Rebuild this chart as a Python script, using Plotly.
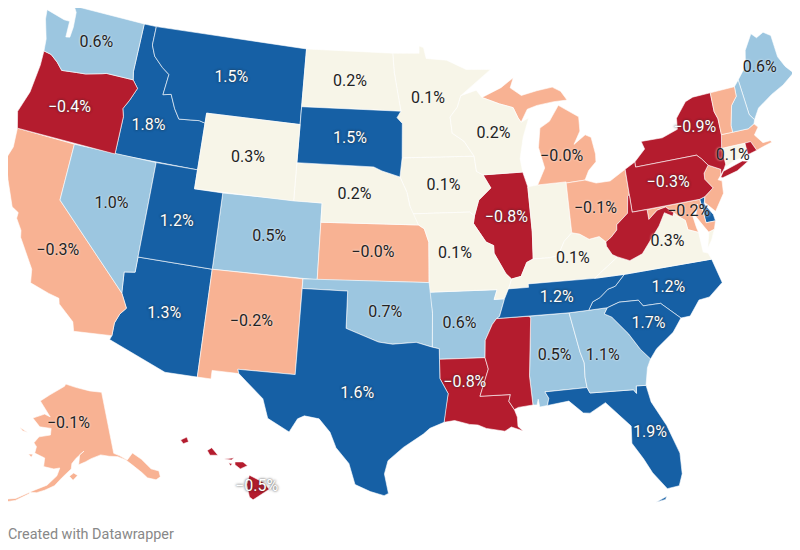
"""Mapa de EE.UU. por estado: poligonos rellenos por clases, proyeccion Albers USA propia (sin topojson)."""
import math
import plotly.graph_objects as go

# -- Datos -----------------------------------------------------------------
states = ["AL", "AK", "AZ", "AR", "CA", "CO", "CT", "DE", "FL", "GA", "HI", "ID", "IL", "IN", "IA", "KS", "KY",
          "LA", "ME", "MD", "MA", "MI", "MN", "MS", "MO", "MT", "NE", "NV", "NH", "NJ", "NM", "NY", "NC", "ND",
          "OH", "OK", "OR", "PA", "RI", "SC", "SD", "TN", "TX", "UT", "VT", "VA", "WA", "WV", "WI", "WY"]
values = [0.5, -0.1, 1.3, 0.6, -0.28, 0.5, 0.1, 1.2, 1.9, 1.1, -0.5, 1.8, -0.8, 0.1, 0.1, -0.02, 0.1,
          -0.8, 0.6, -0.2, -0.1, -0.02, 0.1, -0.8, 0.1, 1.5, 0.2, 1.0, 0.6, -0.1, -0.2, -0.9, 1.2, 0.2,
          -0.1, 0.7, -0.4, -0.32, -0.5, 1.7, 1.5, 1.2, 1.6, 1.2, -0.1, 0.3, 0.6, -0.5, 0.2, 0.3]

# estados con etiqueta y donde va (lon, lat)
label_states = ["WA", "OR", "ID", "MT", "WY", "NV", "UT", "CO", "AZ", "NM", "ND", "SD", "NE", "KS", "OK", "TX",
                "MN", "IA", "MO", "AR", "LA", "WI", "IL", "MI", "OH", "KY", "TN", "AL", "GA", "SC", "NC", "VA",
                "PA", "NY", "ME", "CT", "MD", "FL", "CA", "AK", "HI"]
label_lon = [-120.3, -121.0, -115.1, -109.6, -107.6, -116.5, -111.9, -105.5, -111.7, -106.1, -100.5, -100.3, -99.8,
             -98.4, -97.5, -99.15, -94.5, -93.5, -92.85, -92.7, -92.5, -89.7, -89.2, -84.9, -83.0, -84.95, -86.3,
             -86.8, -83.8, -80.65, -79.0, -78.5, -77.7, -75.05, -69.3, -72.85, -76.7, -81.6, -119.3, -155.0, -155.5]
label_lat = [47.4, 43.75, 43.8, 47.0, 43.0, 39.4, 39.15, 39.0, 34.3, 34.55, 47.4, 44.4, 41.5, 38.5, 35.4, 31.15, 46.55,
             42.0, 38.45, 34.8, 31.74, 44.6, 40.2, 43.1, 40.15, 37.75, 35.8, 32.8, 32.55, 33.85, 35.5, 37.9, 40.9, 43.4,
             45.6, 41.55, 39.2, 28.2, 36.4, 65.35, 19.6]

# -- Contornos (lon, lat) ---------------------------------------------------
SHAPES = {
    "WA": [[(-124.7, 48.4), (-123.2, 48.15), (-122.75, 48.15), (-122.7, 47.3), (-122.4, 47.35), (-122.35, 47.9), (-122.45, 48.7), (-122.75, 49), (-117.03, 49), (-117.04, 46.42), (-116.92, 45.99), (-118.98, 46), (-119.3, 45.93), (-120.5, 45.7), (-121.2, 45.65), (-122.3, 45.55), (-122.8, 45.9), (-123.4, 46.2), (-124, 46.27), (-124.1, 46.9), (-124.6, 47.9)]],
    "OR": [[(-124, 46.27), (-123.4, 46.2), (-122.8, 45.9), (-122.3, 45.55), (-121.2, 45.65), (-120.5, 45.7), (-119.3, 45.93), (-118.98, 46), (-116.92, 45.99), (-116.46, 45.6), (-116.85, 44.9), (-117.2, 44.4), (-117.03, 44), (-117.03, 42), (-124.21, 42), (-124.55, 42.84), (-124.1, 44), (-123.95, 45.5)]],
    "CA": [[(-124.21, 42), (-120, 42), (-120, 39), (-114.63, 35), (-114.15, 34.27), (-114.5, 33.9), (-114.72, 33.4), (-114.72, 32.72), (-117.12, 32.53), (-117.3, 33), (-118.4, 33.75), (-118.5, 34.03), (-119.2, 34.15), (-120.5, 34.45), (-120.65, 35.15), (-121.9, 36.6), (-122, 36.95), (-122.5, 37.5), (-122.5, 37.8), (-123, 38), (-123.8, 39.3), (-124.35, 40.3), (-124.1, 41)]],
    "NV": [[(-120, 42), (-114.04, 42), (-114.04, 36.2), (-114.75, 36.1), (-114.63, 35), (-120, 39)]],
    "ID": [[(-117.03, 49), (-116.05, 49), (-116.05, 48), (-115.7, 47.45), (-114.95, 46.95), (-114.35, 46.65), (-114.5, 45.55), (-113.9, 45.65), (-113.45, 44.95), (-113, 44.45), (-111.5, 44.55), (-111.05, 44.47), (-111.05, 42), (-117.03, 42), (-117.03, 44), (-117.2, 44.4), (-116.85, 44.9), (-116.46, 45.6), (-116.92, 45.99), (-117.04, 46.42)]],
    "MT": [[(-116.05, 49), (-104.05, 49), (-104.05, 45), (-111.05, 45), (-111.05, 44.47), (-111.5, 44.55), (-113, 44.45), (-113.45, 44.95), (-113.9, 45.65), (-114.5, 45.55), (-114.35, 46.65), (-114.95, 46.95), (-115.7, 47.45), (-116.05, 48)]],
    "WY": [[(-111.05, 45), (-104.05, 45), (-104.05, 41), (-111.05, 41)]],
    "UT": [[(-114.04, 42), (-111.05, 42), (-111.05, 41), (-109.05, 41), (-109.05, 37), (-114.04, 37)]],
    "CO": [[(-109.05, 41), (-102.05, 41), (-102.05, 37), (-109.05, 37)]],
    "AZ": [[(-114.04, 37), (-109.05, 37), (-109.05, 31.33), (-111.07, 31.33), (-114.81, 32.5), (-114.72, 32.72), (-114.72, 33.4), (-114.5, 33.9), (-114.15, 34.27), (-114.63, 35), (-114.75, 36.1), (-114.04, 36.2)]],
    "NM": [[(-109.05, 37), (-103, 37), (-103.04, 32), (-106.62, 32), (-106.53, 31.78), (-108.2, 31.78), (-108.2, 31.33), (-109.05, 31.33)]],
    "ND": [[(-104.05, 49), (-97.23, 49), (-97.1, 48), (-96.85, 47), (-96.56, 45.94), (-104.05, 45.94)]],
    "SD": [[(-104.05, 45.94), (-96.56, 45.94), (-96.85, 45.6), (-96.45, 45.3), (-96.45, 43.5), (-96.6, 42.5), (-97.9, 42.8), (-98.5, 43), (-104.05, 43)]],
    "NE": [[(-104.05, 43), (-98.5, 43), (-97.9, 42.8), (-96.6, 42.5), (-96.1, 41.7), (-95.9, 41), (-95.3, 40), (-102.05, 40), (-102.05, 41), (-104.05, 41)]],
    "KS": [[(-102.05, 40), (-95.3, 40), (-94.9, 39.8), (-94.6, 39.1), (-94.62, 37), (-102.05, 37)]],
    "OK": [[(-103, 37), (-94.62, 37), (-94.43, 35.4), (-94.48, 33.64), (-95.5, 33.9), (-97, 33.8), (-97.9, 33.9), (-99.2, 34.3), (-100, 34.56), (-100, 36.5), (-103, 36.5)]],
    "TX": [[(-106.62, 32), (-103.04, 32), (-103, 36.5), (-100, 36.5), (-100, 34.56), (-99.2, 34.3), (-97.9, 33.9), (-97, 33.8), (-95.5, 33.9), (-94.48, 33.64), (-94.04, 33.55), (-94.04, 33), (-94.04, 32), (-93.55, 31.2), (-93.75, 30.3), (-93.84, 29.7), (-94.7, 29.4), (-95.1, 29.1), (-96.3, 28.4), (-97.2, 27.7), (-97.4, 27), (-97.15, 25.97), (-97.4, 25.85), (-98.2, 26.05), (-99.1, 26.4), (-99.5, 27.5), (-100.3, 28.3), (-100.7, 29.1), (-101.4, 29.77), (-102.3, 29.88), (-102.7, 29.7), (-103.15, 28.98), (-104.5, 29.6), (-104.9, 30.6), (-106, 31.4), (-106.53, 31.78)]],
    "MN": [[(-97.23, 49), (-95.15, 49), (-95.15, 49.38), (-94.8, 49.3), (-94.6, 48.72), (-93, 48.6), (-91.5, 48.07), (-89.6, 48), (-92, 46.7), (-92.3, 46.1), (-92.87, 45.6), (-92.75, 44.75), (-91.9, 44.3), (-91.22, 43.5), (-96.45, 43.5), (-96.45, 45.3), (-96.85, 45.6), (-96.56, 45.94), (-96.85, 47), (-97.1, 48)]],
    "IA": [[(-96.45, 43.5), (-91.22, 43.5), (-91.1, 42.7), (-90.65, 42.5), (-90.15, 41.8), (-91.05, 41.2), (-91.4, 40.4), (-91.73, 40.6), (-95.77, 40.58), (-95.9, 41), (-96.1, 41.7), (-96.6, 42.5)]],
    "MO": [[(-95.77, 40.58), (-91.73, 40.6), (-91.4, 40.4), (-91.5, 40), (-90.7, 39), (-90.2, 38.8), (-90.2, 38.4), (-89.5, 37.3), (-89.15, 37), (-89.4, 36.5), (-89.7, 36), (-90.38, 36), (-90.15, 36.5), (-94.62, 36.5), (-94.62, 37), (-94.6, 39.1), (-94.9, 39.8), (-95.3, 40)]],
    "AR": [[(-94.62, 36.5), (-90.15, 36.5), (-90.38, 36), (-89.7, 36), (-90.1, 35.1), (-90.3, 35), (-90.6, 34.7), (-91.1, 33.9), (-91.17, 33), (-94.04, 33), (-94.04, 33.55), (-94.48, 33.64), (-94.43, 35.4)]],
    "LA": [[(-94.04, 33), (-91.17, 33), (-91, 32.4), (-91.6, 31), (-89.73, 31), (-89.85, 30.65), (-89.55, 30.2), (-89.4, 29.8), (-89.4, 29.3), (-89.1, 29.05), (-89.8, 29.3), (-90.2, 29.1), (-91.3, 29.3), (-91.8, 29.5), (-92.3, 29.55), (-93.2, 29.78), (-93.84, 29.7), (-93.75, 30.3), (-93.55, 31.2), (-94.04, 32)]],
    "MS": [[(-91.17, 33), (-91.1, 33.9), (-90.6, 34.7), (-90.3, 35), (-88.2, 35), (-88.1, 34.9), (-88.47, 31.9), (-88.4, 30.37), (-89.3, 30.3), (-89.55, 30.2), (-89.85, 30.65), (-89.73, 31), (-91.6, 31), (-91, 32.4)]],
    "AL": [[(-88.2, 35), (-85.6, 34.98), (-85.18, 32.87), (-85, 32.3), (-85.05, 31.55), (-85, 31), (-87.6, 31), (-87.4, 30.65), (-87.52, 30.28), (-88, 30.23), (-88.05, 30.65), (-88.15, 30.35), (-88.4, 30.37), (-88.47, 31.9), (-88.1, 34.9)]],
    "GA": [[(-85.6, 34.98), (-84.32, 34.99), (-83.1, 35), (-83.35, 34.7), (-82.9, 34.48), (-82, 33.5), (-81.4, 32.6), (-80.87, 32.03), (-81.15, 31.6), (-81.4, 30.7), (-82, 30.75), (-82.05, 30.36), (-82.2, 30.57), (-84.86, 30.7), (-85, 31), (-85.05, 31.55), (-85, 32.3), (-85.18, 32.87)]],
    "FL": [[(-87.6, 31), (-85, 31), (-84.86, 30.7), (-82.2, 30.57), (-82.05, 30.36), (-82, 30.75), (-81.4, 30.7), (-81.25, 29.8), (-80.55, 28.45), (-80.05, 26.9), (-80.12, 25.8), (-80.4, 25.2), (-81.1, 25.15), (-81.8, 26.1), (-82.2, 26.9), (-82.75, 27.8), (-82.65, 28.7), (-83.4, 29.5), (-84, 30.1), (-85, 29.65), (-85.4, 29.7), (-86.2, 30.4), (-87.52, 30.28), (-87.4, 30.65)],
           [(-81.85, 24.53), (-81.2, 24.75), (-81.3, 24.6)]],
    "TN": [[(-90.3, 35), (-88.2, 35), (-85.6, 34.98), (-84.32, 34.99), (-84, 35.4), (-83.5, 35.57), (-82.9, 35.95), (-82.4, 36.05), (-81.7, 36.59), (-83.68, 36.6), (-88.07, 36.68), (-88.07, 36.5), (-89.4, 36.5), (-89.7, 36), (-90.1, 35.1)]],
    "NC": [[(-84.32, 34.99), (-83.1, 35), (-82.3, 35.2), (-81.05, 35.15), (-80.8, 34.82), (-79.67, 34.8), (-78.55, 33.86), (-77.95, 33.87), (-77.2, 34.6), (-76.5, 34.65), (-75.5, 35.25), (-75.85, 36.55), (-81.7, 36.59), (-82.4, 36.05), (-82.9, 35.95), (-83.5, 35.57), (-84, 35.4)]],
    "SC": [[(-83.1, 35), (-82.3, 35.2), (-81.05, 35.15), (-80.8, 34.82), (-79.67, 34.8), (-78.55, 33.86), (-79.2, 33.2), (-80.4, 32.5), (-80.87, 32.03), (-81.4, 32.6), (-82, 33.5), (-82.9, 34.48), (-83.35, 34.7)]],
    "VA": [[(-83.68, 36.6), (-81.7, 36.59), (-75.85, 36.55), (-76, 36.9), (-76.3, 37), (-76.3, 37.6), (-76.33, 38.05), (-77, 38.3), (-77.05, 38.8), (-77.5, 39.1), (-77.72, 39.32), (-77.83, 39.14), (-78.35, 39.4), (-78.87, 38.77), (-79.3, 38.42), (-80.3, 37.5), (-81.2, 37.25), (-81.97, 37.54)],
           [(-75.25, 38.03), (-75.65, 37.95), (-75.95, 37.15), (-75.6, 37.5)]],
    "WV": [[(-81.97, 37.54), (-81.2, 37.25), (-80.3, 37.5), (-79.3, 38.42), (-78.87, 38.77), (-78.35, 39.4), (-77.83, 39.14), (-77.72, 39.32), (-78.2, 39.68), (-78.8, 39.6), (-79.48, 39.2), (-79.48, 39.72), (-80.52, 39.72), (-80.52, 40.64), (-80.65, 40.58), (-80.85, 39.7), (-81.7, 39.2), (-81.75, 38.93), (-82.2, 38.6), (-82.6, 38.4), (-82.6, 38.17), (-82.3, 37.7)]],
    "KY": [[(-89.15, 37), (-89.4, 36.5), (-88.07, 36.5), (-88.07, 36.68), (-83.68, 36.6), (-81.97, 37.54), (-82.3, 37.7), (-82.6, 38.17), (-82.6, 38.4), (-83, 38.72), (-83.7, 38.65), (-84.3, 38.98), (-84.82, 39.1), (-85.4, 38.7), (-85.9, 38), (-86.5, 37.93), (-87.6, 37.95), (-88.05, 37.8), (-88.5, 37.1)]],
    "OH": [[(-84.82, 39.1), (-84.8, 41.7), (-83.45, 41.73), (-82.7, 41.5), (-81.7, 41.5), (-80.52, 41.98), (-80.52, 40.64), (-80.65, 40.58), (-80.85, 39.7), (-81.7, 39.2), (-81.75, 38.93), (-82.2, 38.6), (-82.6, 38.4), (-83, 38.72), (-83.7, 38.65), (-84.3, 38.98)]],
    "IN": [[(-87.53, 41.71), (-86.82, 41.76), (-84.8, 41.76), (-84.8, 41.7), (-84.82, 39.1), (-85.4, 38.7), (-85.9, 38), (-86.5, 37.93), (-87.6, 37.95), (-87.5, 39.35)]],
    "IL": [[(-87.53, 41.71), (-87.5, 39.35), (-87.6, 37.95), (-88.05, 37.8), (-88.5, 37.1), (-89.15, 37), (-89.5, 37.3), (-90.2, 38.4), (-90.2, 38.8), (-90.7, 39), (-91.5, 40), (-91.4, 40.4), (-91.05, 41.2), (-90.15, 41.8), (-90.65, 42.5), (-87.8, 42.5)]],
    "WI": [[(-90.65, 42.5), (-87.8, 42.5), (-87.9, 43.2), (-87.55, 44.3), (-87, 45.3), (-87.6, 45.1), (-87.8, 45.35), (-88.1, 45.9), (-89.1, 46.15), (-90.4, 46.55), (-90.8, 46.95), (-92, 46.7), (-92.3, 46.1), (-92.87, 45.6), (-92.75, 44.75), (-91.9, 44.3), (-91.22, 43.5), (-91.1, 42.7)]],
    "MI": [[(-86.82, 41.76), (-84.8, 41.76), (-84.8, 41.7), (-83.45, 41.73), (-83.1, 42.2), (-82.5, 42.6), (-82.45, 43), (-82.6, 43.9), (-83, 44.07), (-83.9, 43.65), (-83.35, 44.3), (-83.3, 45.05), (-84.7, 45.78), (-85.5, 45), (-86.25, 44.7), (-86.5, 43.7), (-86.2, 42.6)],
           [(-90.4, 46.55), (-89.1, 46.15), (-88.1, 45.9), (-87.8, 45.35), (-87.6, 45.1), (-87.05, 45.75), (-86.3, 45.9), (-85, 46), (-84, 46), (-84.4, 46.5), (-85, 46.77), (-86.2, 46.67), (-87.4, 46.5), (-88.2, 46.95), (-87.9, 47.47), (-88.9, 47)]],
    "PA": [[(-80.52, 41.98), (-79.76, 42.27), (-79.76, 42), (-75.35, 42), (-75.05, 41.75), (-74.7, 41.36), (-75.1, 41), (-75.15, 40.68), (-74.72, 40.15), (-75.4, 39.8), (-75.79, 39.72), (-80.52, 39.72), (-80.52, 40.64)]],
    "NY": [[(-79.76, 42.27), (-78.9, 42.85), (-79.05, 43.27), (-77.5, 43.25), (-76.3, 43.53), (-76.2, 44.1), (-75.3, 44.85), (-74.7, 45), (-73.35, 45.01), (-73.4, 44), (-73.25, 43.6), (-73.28, 42.75), (-73.5, 42.05), (-73.48, 41.2), (-73.65, 41), (-74, 40.7), (-73.9, 41), (-74.7, 41.36), (-75.05, 41.75), (-75.35, 42), (-79.76, 42)],
           [(-74.03, 40.6), (-73.75, 40.87), (-72.3, 41.15), (-71.9, 41.07), (-72.8, 40.72), (-73.9, 40.55)]],
    "NJ": [[(-74.7, 41.36), (-73.9, 41), (-74, 40.7), (-74.25, 40.5), (-74, 40.4), (-74.1, 39.75), (-74.9, 38.93), (-75.5, 39.5), (-75.4, 39.8), (-74.72, 40.15), (-75.15, 40.68), (-75.1, 41)]],
    "DE": [[(-75.79, 39.72), (-75.4, 39.8), (-75.55, 39.45), (-75.1, 38.8), (-75.05, 38.45), (-75.7, 38.46)]],
    "MD": [[(-79.48, 39.72), (-75.79, 39.72), (-75.7, 38.46), (-75.05, 38.45), (-75.25, 38.03), (-75.65, 37.95), (-75.9, 38.3), (-76.3, 38.9), (-76, 39.5), (-76.5, 39), (-76.4, 38.3), (-76.33, 38.05), (-77, 38.3), (-77.05, 38.8), (-77.5, 39.1), (-77.72, 39.32), (-78.2, 39.68), (-78.8, 39.6), (-79.48, 39.2)]],
    "CT": [[(-73.5, 42.05), (-71.8, 42.02), (-71.8, 41.4), (-72.9, 41.25), (-73.65, 41), (-73.48, 41.2)]],
    "RI": [[(-71.8, 42.02), (-71.38, 42.02), (-71.12, 41.5), (-71.4, 41.45), (-71.8, 41.4)]],
    "MA": [[(-73.5, 42.05), (-73.28, 42.75), (-71.3, 42.7), (-70.82, 42.87), (-70.6, 42.65), (-71, 42.3), (-70.55, 41.8), (-70, 41.8), (-70.1, 42.05), (-69.95, 41.7), (-70.6, 41.6), (-71.12, 41.5), (-71.38, 42.02), (-71.8, 42.02)]],
    "VT": [[(-73.35, 45.01), (-71.5, 45.01), (-71.55, 44.5), (-72.05, 44.1), (-72.45, 43.1), (-72.46, 42.73), (-73.28, 42.75), (-73.25, 43.6), (-73.4, 44)]],
    "NH": [[(-71.5, 45.01), (-71.1, 45.3), (-70.98, 43.4), (-70.7, 43.07), (-70.82, 42.87), (-71.3, 42.7), (-72.46, 42.73), (-72.45, 43.1), (-72.05, 44.1), (-71.55, 44.5)]],
    "ME": [[(-71.1, 45.3), (-70.3, 45.9), (-70, 46.7), (-69.23, 47.46), (-68.9, 47.18), (-68.3, 47.36), (-67.8, 47.07), (-67.78, 45.9), (-67.45, 45.3), (-67, 44.85), (-68, 44.4), (-69, 44.1), (-70.2, 43.6), (-70.7, 43.07), (-70.98, 43.4)]],
    "AK": [[(-141, 69.65), (-141, 60.3), (-139.5, 59.8), (-137.5, 58.9), (-135.5, 59.7), (-133.5, 58.4), (-131.8, 56.6), (-130, 55.9), (-130.2, 55), (-131.5, 54.8), (-133.5, 55.5), (-134.5, 56.5), (-136.5, 58), (-138, 59), (-140, 59.7), (-142.5, 60), (-145, 60.4), (-148, 60), (-149.7, 59.6), (-151.8, 59.2), (-151.4, 60.7), (-150, 61.2), (-152.5, 60.2), (-153.8, 59.4), (-154, 58.6), (-156.5, 57.3), (-158.5, 56), (-161, 55.2), (-163, 54.7), (-164.9, 54.6), (-163, 55.2), (-160.5, 56), (-158, 57.5), (-157.3, 58.7), (-159, 58.5), (-162, 58.7), (-162, 60), (-165.2, 60.5), (-165, 61.5), (-166, 62), (-164.7, 63), (-161, 63.5), (-161, 64.5), (-165, 64.5), (-168, 65.6), (-164, 66.5), (-161.8, 66.2), (-163.7, 67.1), (-166.5, 68.35), (-163, 69.5), (-157, 71), (-156.5, 71.35), (-152, 70.85), (-146, 70.15)],
           [(-154.5, 57.5), (-153.3, 58), (-152.2, 57.6), (-153.5, 56.9)],
           [(-171.7, 63.8), (-168.7, 63.3), (-170.5, 63.4)],
           [(-167, 60.2), (-165.7, 60.3), (-166, 59.8)],
           [(-164.5, 54.7), (-168, 53.3), (-172.5, 52.4), (-176, 51.6), (-172, 52), (-168, 53), (-165, 54.3)]],
    "HI": [[(-155.9, 20.25), (-155.1, 19.85), (-154.8, 19.5), (-155.7, 18.95), (-155.9, 19.1), (-156.05, 19.75)],
           [(-156.7, 20.95), (-156.25, 20.95), (-156, 20.75), (-156.4, 20.58), (-156.7, 20.8)],
           [(-157.3, 21.1), (-156.75, 21.17), (-156.9, 21.05)],
           [(-157.05, 20.9), (-156.85, 20.85), (-156.95, 20.73)],
           [(-158.25, 21.55), (-158, 21.7), (-157.65, 21.3), (-158.1, 21.3)],
           [(-159.75, 22.1), (-159.4, 22.25), (-159.3, 22), (-159.6, 21.9)]],
}

# -- Paleta por clases -------------------------------------------------------
RED, SALMON, CREAM, LIGHT_BLUE, BLUE = "#b41c2e", "#f8b293", "#f7f5e8", "#9cc6e0", "#1660a5"
CLASS_COLORS = [RED, SALMON, CREAM, LIGHT_BLUE, BLUE]
HALO_DARK = "0 0 2px rgba(40,40,40,0.65), 0 0 3px rgba(40,40,40,0.45)"
HALO_LIGHT = "0 0 2px rgba(255,255,255,0.7), 0 0 3px rgba(255,255,255,0.4)"


def class_color(v):
    if v <= -0.3:
        return RED
    if v < 0:
        return SALMON
    if v < 0.45:
        return CREAM
    if v < 1.15:
        return LIGHT_BLUE
    return BLUE


# -- Proyeccion Albers USA (misma definicion que d3.geoAlbersUsa) -------------
SCALE, TX, TY = 1092, 399.5, 250


def conic(rotate, center, parallels, k, tx, ty):
    s0, s1 = math.sin(math.radians(parallels[0])), math.sin(math.radians(parallels[1]))
    n = (s0 + s1) / 2
    c = 1 + s0 * (2 * n - s0)
    r0 = math.sqrt(c) / n

    def raw(lon, lat):
        r = math.sqrt(c - 2 * n * math.sin(math.radians(lat))) / n
        a = math.radians(lon) * n
        return r * math.sin(a), r0 - r * math.cos(a)

    xc, yc = raw(*center)

    def proj(lon, lat):
        x, y = raw(lon + rotate, lat)
        return tx + k * (x - xc), ty - k * (y - yc)
    return proj


lower48 = conic(96, (-0.6, 38.7), (29.5, 45.5), SCALE, TX, TY)
alaska = conic(154, (-2, 58.5), (55, 65), 0.35 * SCALE, TX - 0.307 * SCALE, TY + 0.201 * SCALE)
hawaii = conic(157, (-3, 19.9), (8, 18), SCALE, TX - 0.205 * SCALE, TY + 0.212 * SCALE)


def project(lon, lat):
    if lat > 50:
        return alaska(lon, lat)
    if lat < 24:
        return hawaii(lon, lat)
    return lower48(lon, lat)


value_of = dict(zip(states, values))
label_vals = [value_of[s] for s in label_states]
label_xy = [project(lo, la) for lo, la in zip(label_lon, label_lat)]

fig = go.Figure()
for st in states:
    xs, ys = [], []
    for ring in SHAPES[st]:
        for lo, la in list(ring) + [ring[0]]:
            x, y = project(lo, la)
            xs.append(x)
            ys.append(y)
        xs.append(None)
        ys.append(None)
    fig.add_trace(go.Scatter(
        x=xs[:-1], y=ys[:-1], mode="lines", fill="toself",
        fillcolor=class_color(value_of[st]),
        line=dict(color="#ffffff", width=0.6),
        name=st, hoverinfo="name", showlegend=False,
    ))

# una traza de texto por clase: blanco con halo oscuro o negro con halo claro
for col in CLASS_COLORS:
    idx = [i for i, v in enumerate(label_vals) if class_color(v) == col]
    dark_bg = col in (RED, BLUE)
    fig.add_trace(go.Scatter(
        x=[label_xy[i][0] for i in idx], y=[label_xy[i][1] for i in idx],
        text=[f"{label_vals[i]:.1f}%".replace("-", "\u2212") for i in idx],
        mode="text", textposition="middle center",
        textfont=dict(family="Roboto", size=16,
                      color="#ffffff" if dark_bg else "#222222",
                      shadow=HALO_DARK if dark_bg else HALO_LIGHT),
        hoverinfo="skip", showlegend=False, cliponaxis=False,
    ))

fig.update_layout(
    width=792, height=542,
    margin=dict(l=0, r=0, t=0, b=0),
    paper_bgcolor="white", plot_bgcolor="white",
    font=dict(family="Roboto"),
    xaxis=dict(range=[8, 800], visible=False, fixedrange=True),
    yaxis=dict(range=[550, 8], visible=False, fixedrange=True),
    annotations=[dict(
        text="Created with Datawrapper", xref="paper", yref="paper",
        x=0, y=0.0277, xanchor="left", yanchor="middle", showarrow=False, xshift=-2,
        font=dict(family="Roboto", size=14.4, color="#888888"),
    )],
)
fig.write_html("out.html")
